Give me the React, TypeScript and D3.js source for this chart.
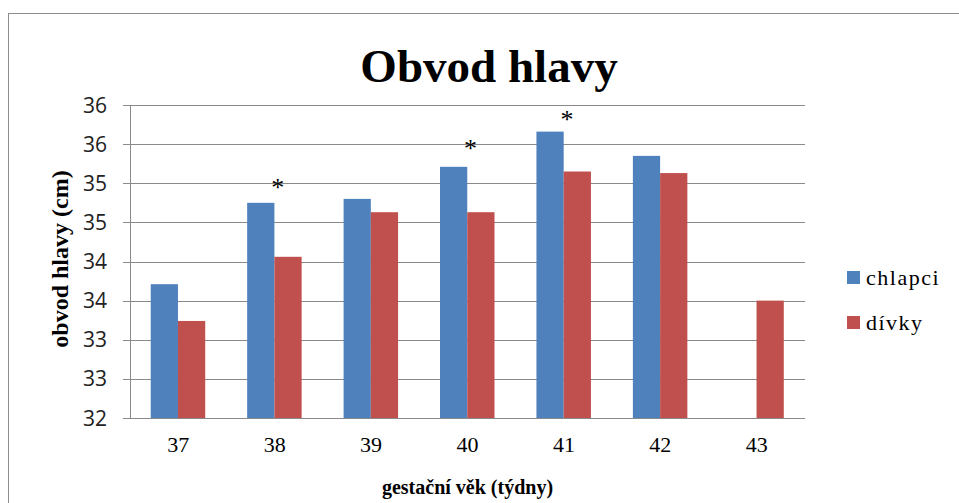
import React from "react";
import * as d3 from "d3";

const categories = ["37", "38", "39", "40", "41", "42", "43"];
const seriesNames = ["chlapci", "dívky"];
const chlapci: (number | null)[] = [33.71, 34.75, 34.8, 35.21, 35.66, 35.35, null];
const divky: (number | null)[] = [33.24, 34.06, 34.63, 34.63, 35.15, 35.13, 33.5];
const yTicks = [32, 32.5, 33, 33.5, 34, 34.5, 35, 35.5, 36];
const starCategories = ["38", "40", "41"];
const starValues = [34.98, 35.47, 35.85];
const colors = ["#4F81BD", "#C0504D"];

const W = 959;
const H = 503;
const plot = { left: 130, right: 805, top: 105, bottom: 418 };
const serif = "Times New Roman, Liberation Serif, DejaVu Serif, serif";
const sans = "Open Sans, Liberation Sans, sans-serif";

export default function App() {
  const x = d3.scaleBand<string>().domain(categories).range([plot.left, plot.right]).padding(0);
  const step = x.bandwidth();
  const xSub = d3
    .scaleBand<string>()
    .domain(seriesNames)
    .range([step * 0.215, step * 0.78])
    .padding(0);
  const y = d3.scaleLinear().domain([32, 36]).range([plot.bottom, plot.top]);
  const series = [chlapci, divky];
  const grid = "#8a8a8a";

  return (
    <svg
      width={W}
      height={H}
      style={{ position: "absolute", left: 0, top: 0, background: "#fff" }}
    >
      <rect x={8.5} y={13.5} width={1000} height={600} fill="#fff" stroke="#8c8c8c" strokeWidth={1} />
      <text x={489} y={82} textAnchor="middle" style={{ fontFamily: serif }} fontWeight="bold" fontSize={47} fill="#000">
        Obvod hlavy
      </text>
      {yTicks.map((t) => (
        <g key={t}>
          <line x1={plot.left - 7} x2={plot.right} y1={Math.round(y(t)) + 0.5} y2={Math.round(y(t)) + 0.5} stroke={grid} strokeWidth={1} />
          <text x={107} y={y(t) + 7.5} textAnchor="end" style={{ fontFamily: sans }} fontSize={21} fill="#222">
            {Math.round(t)}
          </text>
        </g>
      ))}
      <line x1={plot.left + 0.5} x2={plot.left + 0.5} y1={plot.top} y2={plot.bottom} stroke={grid} strokeWidth={1} />
      {series.map((vals, si) =>
        vals.map((v, i) =>
          v == null ? null : (
            <rect
              key={si + "-" + i}
              x={(x(categories[i]) as number) + (xSub(seriesNames[si]) as number)}
              y={y(v)}
              width={xSub.bandwidth()}
              height={y(32) - y(v)}
              fill={colors[si]}
            />
          )
        )
      )}
      {starCategories.map((c, i) => (
        <text
          key={c}
          x={(x(c) as number) + step / 2 + 3}
          y={y(starValues[i]) + 11}
          textAnchor="middle"
          style={{ fontFamily: serif }}
          fontSize={26}
          fill="#000"
        >
          *
        </text>
      ))}
      {categories.map((c) => (
        <text
          key={c}
          x={(x(c) as number) + step / 2}
          y={452}
          textAnchor="middle"
          style={{ fontFamily: serif }}
          fontSize={22}
          fill="#000"
        >
          {c}
        </text>
      ))}
      <text x={(plot.left + plot.right) / 2} y={494} textAnchor="middle" style={{ fontFamily: serif }} fontWeight="bold" fontSize={20} fill="#000">
        gestační věk (týdny)
      </text>
      <text
        transform="translate(68,259) rotate(-90)"
        textAnchor="middle"
        style={{ fontFamily: serif }}
        fontWeight="bold"
        fontSize={24}
        fill="#000"
      >
        obvod hlavy (cm)
      </text>
      {seriesNames.map((s, i) => (
        <g key={s}>
          <rect x={847} y={271 + i * 45} width={13} height={13} fill={colors[i]} />
          <text x={866} y={285 + i * 45} style={{ fontFamily: serif }} fontSize={22} letterSpacing={1.5} fill="#000">
            {s}
          </text>
        </g>
      ))}
    </svg>
  );
}
